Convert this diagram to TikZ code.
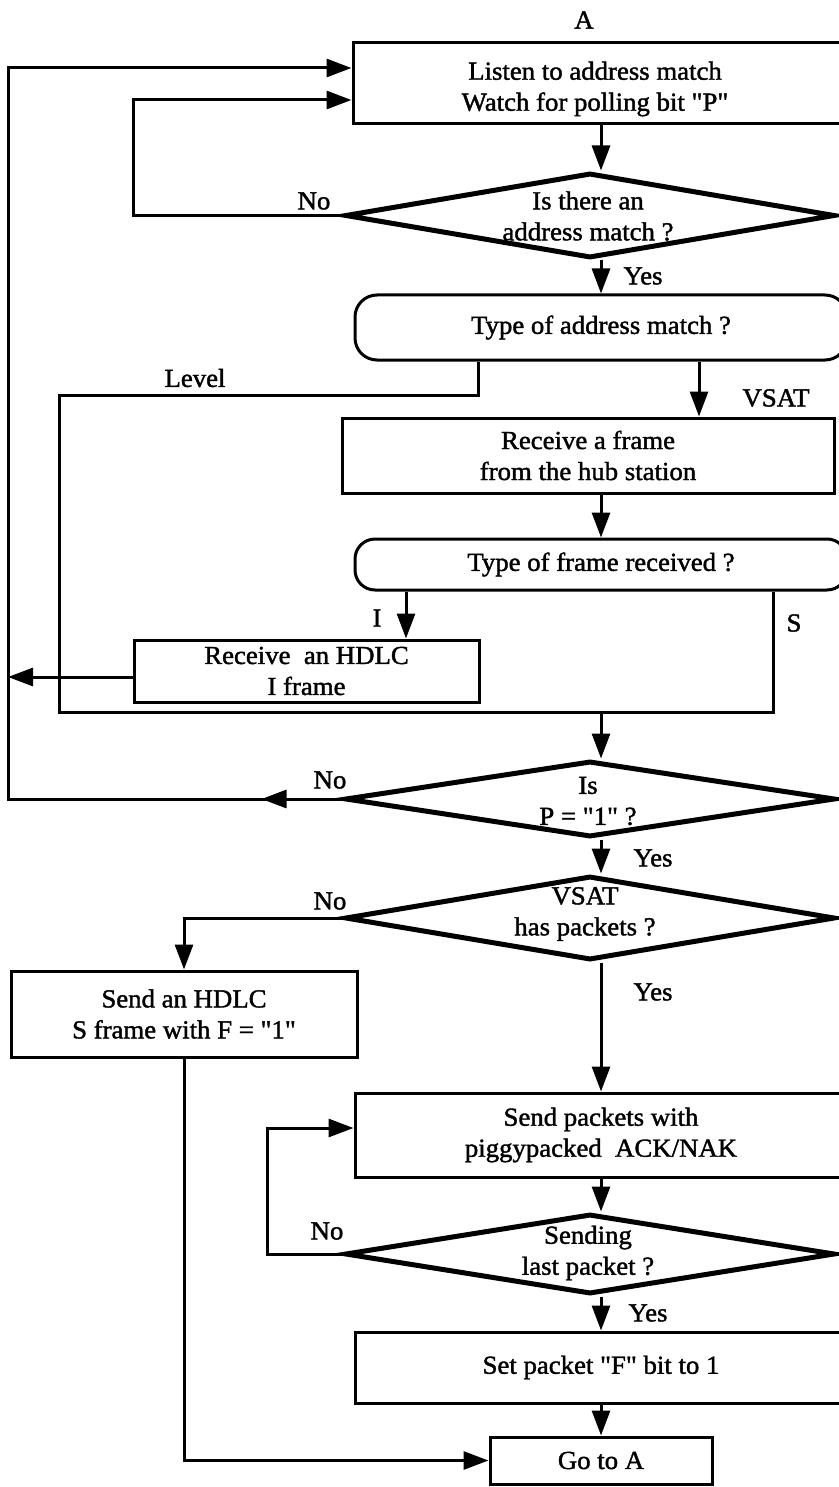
\documentclass[tikz,border=0pt]{standalone}
\usepackage{fontspec}
\setmainfont{Liberation Serif}[FakeStretch=1.03, FakeBold=1.5, Ligatures=TeXOff]
\usetikzlibrary{arrows.meta,shapes.geometric,decorations.markings}
\begin{document}
\begin{tikzpicture}[x=1pt,y=-1pt,
  every node/.style={font=\fontsize{26}{31}\selectfont, align=center},
  box/.style={draw, line width=3pt, rectangle, inner sep=0pt},
  rbox/.style={draw, line width=3pt, rectangle, rounded corners=22pt, inner sep=0pt},
  dia/.style={draw, line width=5pt, diamond, inner sep=0pt, minimum width=490pt},
  dtxt/.style={inner sep=0pt},
  lbl/.style={inner sep=0pt},
  conn/.style={line width=3pt},
  arr/.style={line width=3pt, -{Triangle[length=25pt,width=18pt]}},
  midarr/.style={postaction={decorate}, decoration={markings,
      mark=at position #1 with {\arrow{Triangle[length=25pt,width=18pt]}}}}
]
\useasboundingbox (0,0) rectangle (838,1487);

% process boxes and decisions
\node[box, minimum width=496pt, minimum height=81pt] (b1) at (601,83.5) {};
\node[dtxt] (b1t) at (595,89) {Listen to address match\\Watch for polling bit "P"};
\node[dia, minimum height=85pt] (d1) at (590,215.5) {};
\node[dtxt] (d1t) at (588,216) {Is there an\\address match ?};
\node[rbox, minimum width=492pt, minimum height=65pt] (r1) at (601,327.5)
  {Type of address match ?};
\node[box, minimum width=492pt, minimum height=75pt] (b2) at (588,455.5)
  {Receive a frame\\from the hub station};
\node[rbox, rounded corners=20pt, minimum width=492pt, minimum height=51pt] (r2) at (601,564.5)
  {Type of frame received ?};
\node[box, minimum width=345pt, minimum height=62pt] (b3) at (306.5,671)
  {Receive\ \ an HDLC\\I frame};
\node[dia, minimum height=76pt] (d2) at (590,799) {};
\node[dtxt] (d2t) at (588,801) {Is\\P = "1" ?};
\node[dia, minimum height=84pt] (d3) at (590,918) {};
\node[dtxt] (d3t) at (585,914) {VSAT\\has packets ?};
\node[box, minimum width=346pt, minimum height=86pt] (b4) at (184,1014)
  {Send an HDLC\\S frame with F = "1"};
\node[box, minimum width=492pt, minimum height=84pt] (b5) at (601,1135)
  {Send packets with\\piggypacked\ \ ACK/NAK};
\node[dia, minimum height=80pt] (d4) at (590,1254) {};
\node[dtxt] (d4t) at (588,1253) {Sending\\last packet ?};
\node[box, minimum width=492pt, minimum height=71pt] (b6) at (601,1367.5)
  {Set packet "F" bit to 1};
\node[box, minimum width=222pt, minimum height=47pt] (b7) at (601,1460.5) {Go to A};

% branch labels
\node[lbl] (la) at (584,20) {A};
\node[lbl] (lno1) at (314,201) {No};
\node[lbl] (lyes1) at (643,276) {Yes};
\node[lbl] (llev) at (195,378) {Level};
\node[lbl] (lvsat) at (776,398) {VSAT};
\node[lbl] (li) at (377,618) {I};
\node[lbl] (ls) at (794,623) {S};
\node[lbl] (lno2) at (330,780) {No};
\node[lbl] (lyes2) at (653,858) {Yes};
\node[lbl] (lno3) at (330,901) {No};
\node[lbl] (lyes3) at (653,992) {Yes};
\node[lbl] (lno4) at (327,1231) {No};
\node[lbl] (lyes4) at (648,1313) {Yes};

% routing points
\coordinate (c1) at (133,100);
\coordinate (c2) at (8,68);
\coordinate (lv1) at (478,395);
\coordinate (lv2) at (59,712);
\coordinate (sj) at (773,712);
\coordinate (vx) at (699,0);
\coordinate (ix) at (406,0);
\coordinate (hy) at (0,677);
\coordinate (c4) at (267,1128);

% connectors
\draw[arr] (b1.south) -- (b1.south |- d1.north);
\draw[arr] (d1.west) -| (c1) -- (b1.west |- c1);
\draw[arr] (r1.north |- d1.south) -- (r1.north);
\draw[conn] (r1.south -| lv1) -- (lv1) -| (lv2) -- (sj) -- (r2.south -| sj);
\draw[arr] (r1.south -| vx) -- (b2.north -| vx);
\draw[arr] (b2.south -| r2.north) -- (r2.north);
\draw[arr] (r2.south -| ix) -- (b3.north -| ix);
\draw[arr] (b3.west |- hy) -- (c2 |- hy);
\draw[arr] (lv2 -| r2.south) -- (r2.south |- d2.north);
\draw[arr, midarr=81pt] (d2.west) -- (c2 |- d2.west) -- (c2) -- (b1.west |- c2);
\draw[arr] (b5.north |- d2.south) -- (b5.north |- d3.north);
\draw[arr] (d3.west) -| (b4.north);
\draw[arr] (b5.north |- d3.south) -- (b5.north);
\draw[arr] (b4.south) |- (b7.west);
\draw[arr] (b5.south) -- (b5.south |- d4.north);
\draw[arr] (d4.west) -| (c4) -- (b5.west |- c4);
\draw[arr] (b6.north |- d4.south) -- (b6.north);
\draw[arr] (b6.south) -- (b7.north);
\end{tikzpicture}
\end{document}
